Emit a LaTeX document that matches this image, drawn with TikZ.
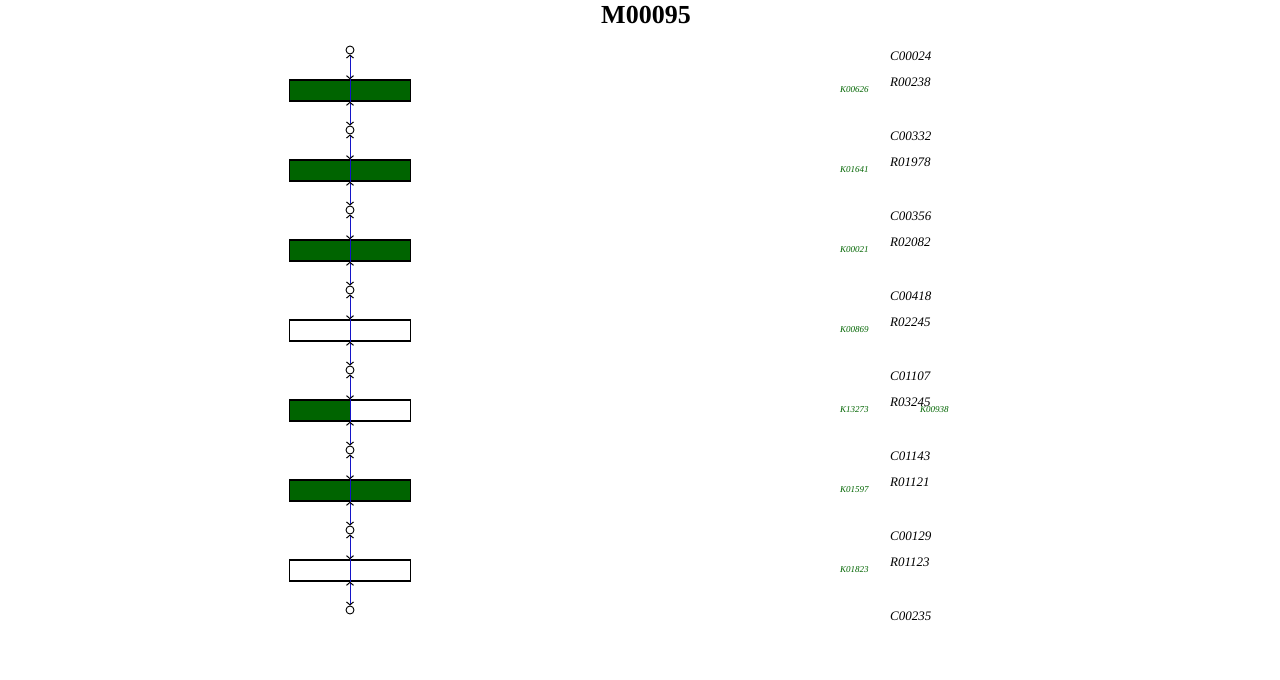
\documentclass[tikz,border=0pt]{standalone}
\usepackage{fontspec}
\setmainfont{Liberation Serif}
\usetikzlibrary{arrows.meta}
\definecolor{kgreen}{RGB}{0,100,0}
\definecolor{lblue}{RGB}{20,20,200}
\tikzset{
  cpd/.style={circle,draw=black,fill=white,line width=0.9pt,minimum size=8pt,inner sep=0pt},
  rbox/.style={draw=black,line width=1.4pt,minimum width=121pt,minimum height=21pt,inner sep=0pt},
  conn/.style={lblue,line width=1pt,{Straight Barb[length=3pt,width=7pt,black]}-{Straight Barb[length=3pt,width=7pt,black]}},
  clab/.style={anchor=west,font=\fontsize{13}{13}\selectfont\itshape,inner sep=0pt},
  klab/.style={anchor=west,text=kgreen,font=\fontsize{9}{9}\selectfont\itshape,inner sep=0pt},
}
\begin{document}
\begin{tikzpicture}[x=1pt,y=-1pt]
\useasboundingbox (0,0) rectangle (1280,680);
\node[font=\fontsize{26}{26}\selectfont\bfseries] (title) at (646,15) {M00095};
% boxes
\node[rbox,fill=kgreen] (r1) at (350,90.5) {};
\node[rbox,fill=kgreen] (r2) at (350,170.5) {};
\node[rbox,fill=kgreen] (r3) at (350,250.5) {};
\node[rbox,fill=white] (r4) at (350,330.5) {};
\node[rbox,fill=white] (r5) at (350,410.5) {};
\fill[kgreen] (289.5,400) rectangle (350,421);
\draw[line width=1.4pt] (289.5,400) rectangle (410.5,421);
\node[rbox,fill=kgreen] (r6) at (350,490.5) {};
\node[rbox,fill=white] (r7) at (350,570.5) {};
% compounds
\foreach \i/\y in {1/50,2/130,3/210,4/290,5/370,6/450,7/530,8/610}{
  \node[cpd] (c\i) at (350,\y) {};
}
% connectors
\foreach \a/\r/\b in {1/1/2,2/2/3,3/3/4,4/4/5,5/5/6,6/6/7,7/7/8}{
  \draw[conn] (c\a.south) -- (r\r.north);
  \draw[conn] (r\r.south) -- (c\b.north);
  \draw[lblue,line width=1pt] (r\r.north) -- (r\r.south);
}
% labels
\node[clab] (lc1) at (890,56) {C00024};
\node[clab] (lr1) at (890,82) {R00238};
\node[klab] (lk1) at (840,90) {K00626};
\node[clab] (lc2) at (890,136) {C00332};
\node[clab] (lr2) at (890,162) {R01978};
\node[klab] (lk2) at (840,170) {K01641};
\node[clab] (lc3) at (890,216) {C00356};
\node[clab] (lr3) at (890,242) {R02082};
\node[klab] (lk3) at (840,250) {K00021};
\node[clab] (lc4) at (890,296) {C00418};
\node[clab] (lr4) at (890,322) {R02245};
\node[klab] (lk4) at (840,330) {K00869};
\node[clab] (lc5) at (890,376) {C01107};
\node[clab] (lr5) at (890,402) {R03245};
\node[klab] (lk5) at (840,410) {K13273};
\node[klab] (lk5b) at (920,410) {K00938};
\node[clab] (lc6) at (890,456) {C01143};
\node[clab] (lr6) at (890,482) {R01121};
\node[klab] (lk6) at (840,490) {K01597};
\node[clab] (lc7) at (890,536) {C00129};
\node[clab] (lr7) at (890,562) {R01123};
\node[klab] (lk7) at (840,570) {K01823};
\node[clab] (lc8) at (890,616) {C00235};
\end{tikzpicture}
\end{document}
